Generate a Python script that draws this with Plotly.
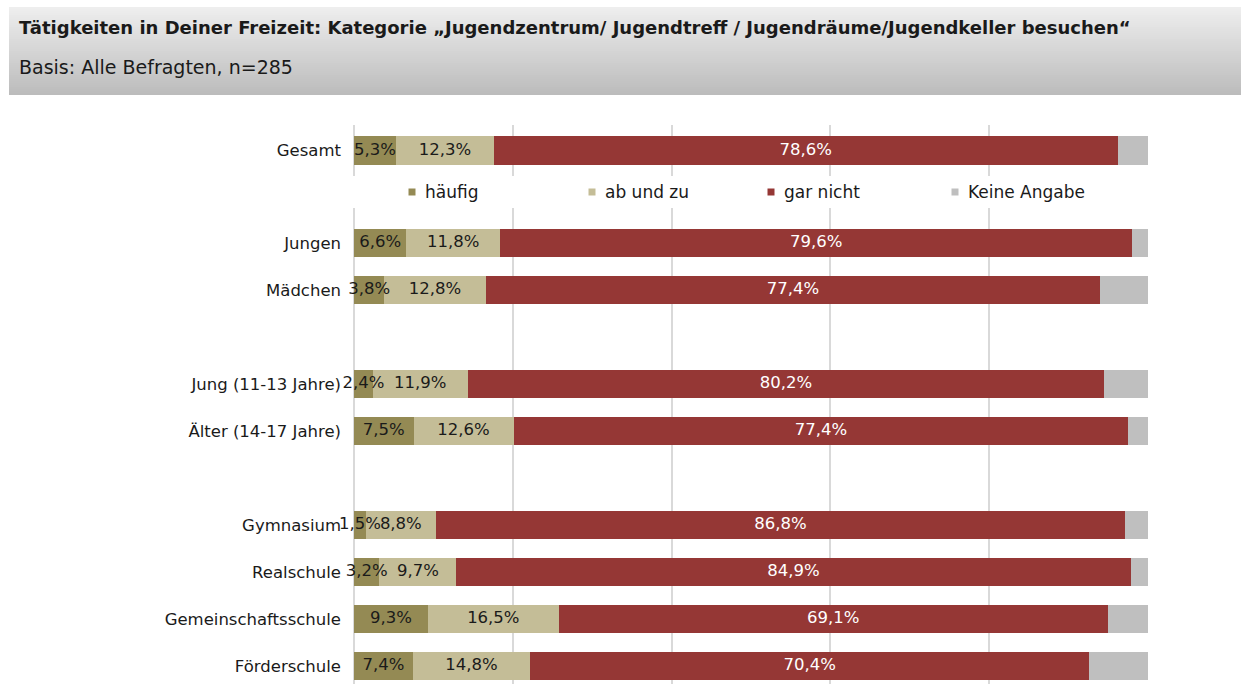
import plotly.graph_objects as go

# ---------------- data ----------------
title_text = "Tätigkeiten in Deiner Freizeit: Kategorie „Jugendzentrum/ Jugendtreff / Jugendräume/Jugendkeller besuchen“"
subtitle_text = "Basis: Alle Befragten, n=285"

series_names = ["häufig", "ab und zu", "gar nicht", "Keine Angabe"]
series_colors = ["#948A54", "#C4BD97", "#953735", "#BFBFBF"]
label_colors = ["#1a1a1a", "#1a1a1a", "#ffffff", None]

top_categories = ["Gesamt"]
top_haeufig = [5.3]
top_abundzu = [12.3]
top_garnicht = [78.6]
top_keine = [3.8]

bottom_categories = ["Jungen", "Mädchen", " ", "Jung (11-13 Jahre)", "Älter (14-17 Jahre)", "  ",
                     "Gymnasium", "Realschule", "Gemeinschaftsschule", "Förderschule"]
bottom_haeufig = [6.6, 3.8, None, 2.4, 7.5, None, 1.5, 3.2, 9.3, 7.4]
bottom_abundzu = [11.8, 12.8, None, 11.9, 12.6, None, 8.8, 9.7, 16.5, 14.8]
bottom_garnicht = [79.6, 77.4, None, 80.2, 77.4, None, 86.8, 84.9, 69.1, 70.4]
bottom_keine = [2.0, 6.0, None, 5.5, 2.5, None, 2.9, 2.2, 5.1, 7.4]

# ---------------- layout helpers ----------------
W, H = 1241, 684
ML, MR = 354, 93
PW = W - ML - MR


def px2x(px):
    return (px - ML) / PW


def py2y(py):
    return 1 - py / H


FONT = "DejaVu Sans, Arial, sans-serif"


def fmt(v):
    return ("%.1f%%" % v).replace(".", ",")


fig = go.Figure()

groups = [
    (top_categories, [top_haeufig, top_abundzu, top_garnicht, top_keine], "x2", "y2"),
    (bottom_categories, [bottom_haeufig, bottom_abundzu, bottom_garnicht, bottom_keine], "x", "y"),
]

# bars
for cats, series, xa, ya in groups:
    for i, name in enumerate(series_names):
        fig.add_trace(go.Bar(
            y=cats, x=series[i], orientation="h", name=name,
            xaxis=xa, yaxis=ya,
            marker=dict(color=series_colors[i], line=dict(width=0)),
            showlegend=False,
            hoverinfo="x+y+name",
        ))

# value labels drawn on top of all bars (centred in each segment)
for cats, series, xa, ya in groups:
    cum = [0.0] * len(cats)
    for i, name in enumerate(series_names):
        xs, ys, ts = [], [], []
        for j, v in enumerate(series[i]):
            if v is None:
                continue
            if label_colors[i]:
                xs.append(cum[j] + v / 2)
                ys.append(cats[j])
                ts.append(fmt(v))
            cum[j] += v
        if xs:
            fig.add_trace(go.Scatter(
                x=xs, y=ys, text=ts, mode="text", xaxis=xa, yaxis=ya,
                textposition="middle center",
                textfont=dict(family=FONT, size=16.5, color=label_colors[i]),
                cliponaxis=False, showlegend=False, hoverinfo="skip",
            ))

# ---------------- header (gradient box) ----------------
shapes = []
hx0, hx1, hy0, hy1 = 9, 1241, 7, 95
steps = 44
for k in range(steps):
    t = k / (steps - 1)
    g = int(round(238 - t * (238 - 188)))
    y_a = hy0 + (hy1 - hy0) * k / steps
    y_b = hy0 + (hy1 - hy0) * (k + 1) / steps
    shapes.append(dict(type="rect", xref="paper", yref="paper",
                       x0=px2x(hx0), x1=px2x(hx1), y0=py2y(y_b), y1=py2y(y_a),
                       fillcolor="rgb(%d,%d,%d)" % (g, g, g), line=dict(width=0), layer="below"))

annotations = [
    dict(text="<b>" + title_text + "</b>", xref="paper", yref="paper",
         x=px2x(17), y=py2y(27), xanchor="left", yanchor="middle", showarrow=False,
         font=dict(family=FONT, size=18, color="#1a1a1a")),
    dict(text=subtitle_text, xref="paper", yref="paper",
         x=px2x(17), y=py2y(67), xanchor="left", yanchor="middle", showarrow=False,
         font=dict(family=FONT, size=19, color="#1a1a1a")),
]

# ---------------- custom legend ----------------
legend_marker_px = [412, 592, 771, 955]
legend_y = 192
for i, name in enumerate(series_names):
    cx = legend_marker_px[i]
    shapes.append(dict(type="rect", xref="paper", yref="paper",
                       x0=px2x(cx - 3.5), x1=px2x(cx + 3.5),
                       y0=py2y(legend_y + 3.5), y1=py2y(legend_y - 3.5),
                       fillcolor=series_colors[i], line=dict(width=0)))
    annotations.append(dict(text=name, xref="paper", yref="paper",
                            x=px2x(cx + 11), y=py2y(legend_y), xanchor="left", yanchor="middle",
                            showarrow=False, font=dict(family=FONT, size=17, color="#1a1a1a")))

# ---------------- axes ----------------
xcommon = dict(range=[0, 100], dtick=20, showgrid=True, gridcolor="#D9D9D9", gridwidth=2,
               zeroline=True, zerolinecolor="#D9D9D9", zerolinewidth=2,
               showticklabels=False, showline=False, ticks="", fixedrange=True)
ycommon = dict(type="category", showgrid=False, zeroline=False, showline=False, ticks="",
               tickfont=dict(family=FONT, size=16.5, color="#1a1a1a"), ticklabelstandoff=12,
               fixedrange=True)

fig.update_layout(
    width=W, height=H,
    margin=dict(l=ML, r=MR, t=0, b=0),
    paper_bgcolor="white", plot_bgcolor="white",
    barmode="stack", bargap=0.4,
    xaxis=dict(**xcommon, anchor="y", domain=[0, 1]),
    yaxis=dict(**ycommon, domain=[0, py2y(208)], categoryorder="array",
               categoryarray=bottom_categories, range=[9.38, -0.75]),
    xaxis2=dict(**xcommon, anchor="y2", domain=[0, 1], matches="x"),
    yaxis2=dict(**ycommon, domain=[py2y(176), py2y(125)], categoryorder="array",
                categoryarray=top_categories, range=[0.53, -0.53]),
    shapes=shapes,
    annotations=annotations,
)

fig.write_html("out.html", config={"displayModeBar": False},
               post_script="document.body.style.margin='0';")
